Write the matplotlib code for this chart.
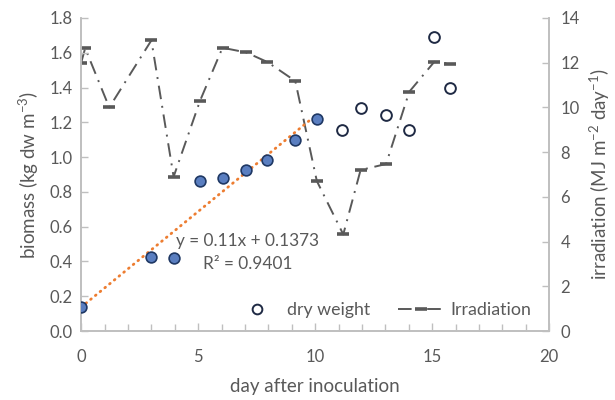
import numpy as np
import matplotlib
matplotlib.use("Agg")
import matplotlib.pyplot as plt
from matplotlib.lines import Line2D

plt.rcParams['font.family'] = ['Lato', 'DejaVu Sans']
plt.rcParams['mathtext.default'] = 'regular'

GRAY = '#595959'
SPINE = '#BFBFBF'

# dry weight during the linear growth phase (fitted)
days_fit = [0.0, 2.99, 3.95, 5.08, 6.04, 7.05, 7.96, 9.15, 10.07]
biomass_fit = [0.14, 0.424, 0.42, 0.864, 0.882, 0.926, 0.983, 1.098, 1.217]

# dry weight after the linear phase
days_late = [11.14, 11.95, 13.02, 14.02, 15.09, 15.74]
biomass_late = [1.156, 1.28, 1.242, 1.156, 1.692, 1.396]

# daily irradiation
days_irr = [0.0, 0.17, 1.2, 3.0, 3.95, 5.08, 6.04, 7.05, 7.96, 9.15, 10.07,
            11.2, 11.94, 13.03, 14.02, 15.09, 15.74]
irradiation = [12.0, 12.65, 10.0, 13.0, 6.9, 10.3, 12.67, 12.46, 12.03, 11.18,
               6.71, 4.32, 7.2, 7.47, 10.7, 12.04, 11.96]

# linear trend of the growth phase
slope, intercept = 0.11, 0.1373
trend_x = [0.0, 9.9]
eq_text = "y = 0.11x + 0.1373"
r2_text = "R² = 0.9401"

fig = plt.figure(figsize=(6.15, 4.0), dpi=100)
ax = fig.add_axes([0.132, 0.1725, 0.761, 0.7825])
ax2 = ax.twinx()

# irradiation on the secondary axis
irr_style = dict(color='#595959', lw=1.4, dashes=(7, 3.5, 1, 3.5),
                 marker='_', markersize=8, markeredgewidth=2.6)
ax2.plot(days_irr, irradiation, **irr_style, zorder=2)

# trendline
tx = np.array(trend_x)
ax.plot(tx, slope * tx + intercept, color='#ED7D31', lw=2.0,
        linestyle=(0, (0.3, 1.9)), dash_capstyle='round', zorder=3)

ax.scatter(days_fit, biomass_fit, s=60, facecolor='#5A7EC0',
           edgecolor='#1F3864', linewidth=1.2, zorder=4)
ax.scatter(days_late, biomass_late, s=60, facecolor='white',
           edgecolor='#1F2A44', linewidth=1.4, zorder=4)

ax.set_zorder(ax2.get_zorder() + 1)
ax.patch.set_visible(False)

ax.set_xlim(0, 20)
ax.set_ylim(0, 1.8)
ax2.set_ylim(0, 14)
ax.set_xticks(np.arange(0, 21, 5))
ax.set_xticks(np.arange(0, 21, 1), minor=True)
ax.set_yticks(np.arange(0, 1.81, 0.2))
ax.set_yticklabels([f"{v:.1f}" for v in np.arange(0, 1.81, 0.2)])
ax2.set_yticks(np.arange(0, 15, 2))

for a in (ax, ax2):
    for side in a.spines:
        a.spines[side].set_color(SPINE)
        a.spines[side].set_linewidth(1.2)
    a.spines['top'].set_visible(False)
    a.tick_params(which='both', direction='in', color=SPINE, width=1.0,
                  labelcolor=GRAY, labelsize=12)
ax.tick_params(axis='x', which='major', length=6, pad=13)
ax.tick_params(axis='x', which='minor', length=5)
ax.tick_params(axis='y', length=5, pad=6)
ax2.tick_params(axis='y', length=5, pad=8)

ax.set_xlabel("day after inoculation", color=GRAY, fontsize=13.5, labelpad=9)
ax.set_ylabel("biomass (kg dw m$^{-3}$)", color=GRAY, fontsize=13.5, labelpad=6)
ax2.set_ylabel("irradiation (MJ m$^{-2}$ day$^{-1}$)", color=GRAY,
               fontsize=13.5, labelpad=6)

ax.text(7.1, 0.52, eq_text, color=GRAY, fontsize=12.4, ha='center', va='center')
ax.text(7.1, 0.385, r2_text, color=GRAY, fontsize=12.4, ha='center', va='center')

handles = [
    Line2D([], [], linestyle='none', marker='o', markersize=7,
           markerfacecolor='white', markeredgecolor='#1F2A44',
           markeredgewidth=1.4),
    Line2D([], [], **irr_style),
]
leg = ax.legend(handles, ["dry weight", "Irradiation"], loc='lower right',
                bbox_to_anchor=(0.995, -0.01), ncol=2, frameon=False,
                fontsize=12.8, handlelength=2.5, columnspacing=1.6,
                handletextpad=0.4)
for t in leg.get_texts():
    t.set_color(GRAY)

fig.savefig("out.png", dpi=100)
